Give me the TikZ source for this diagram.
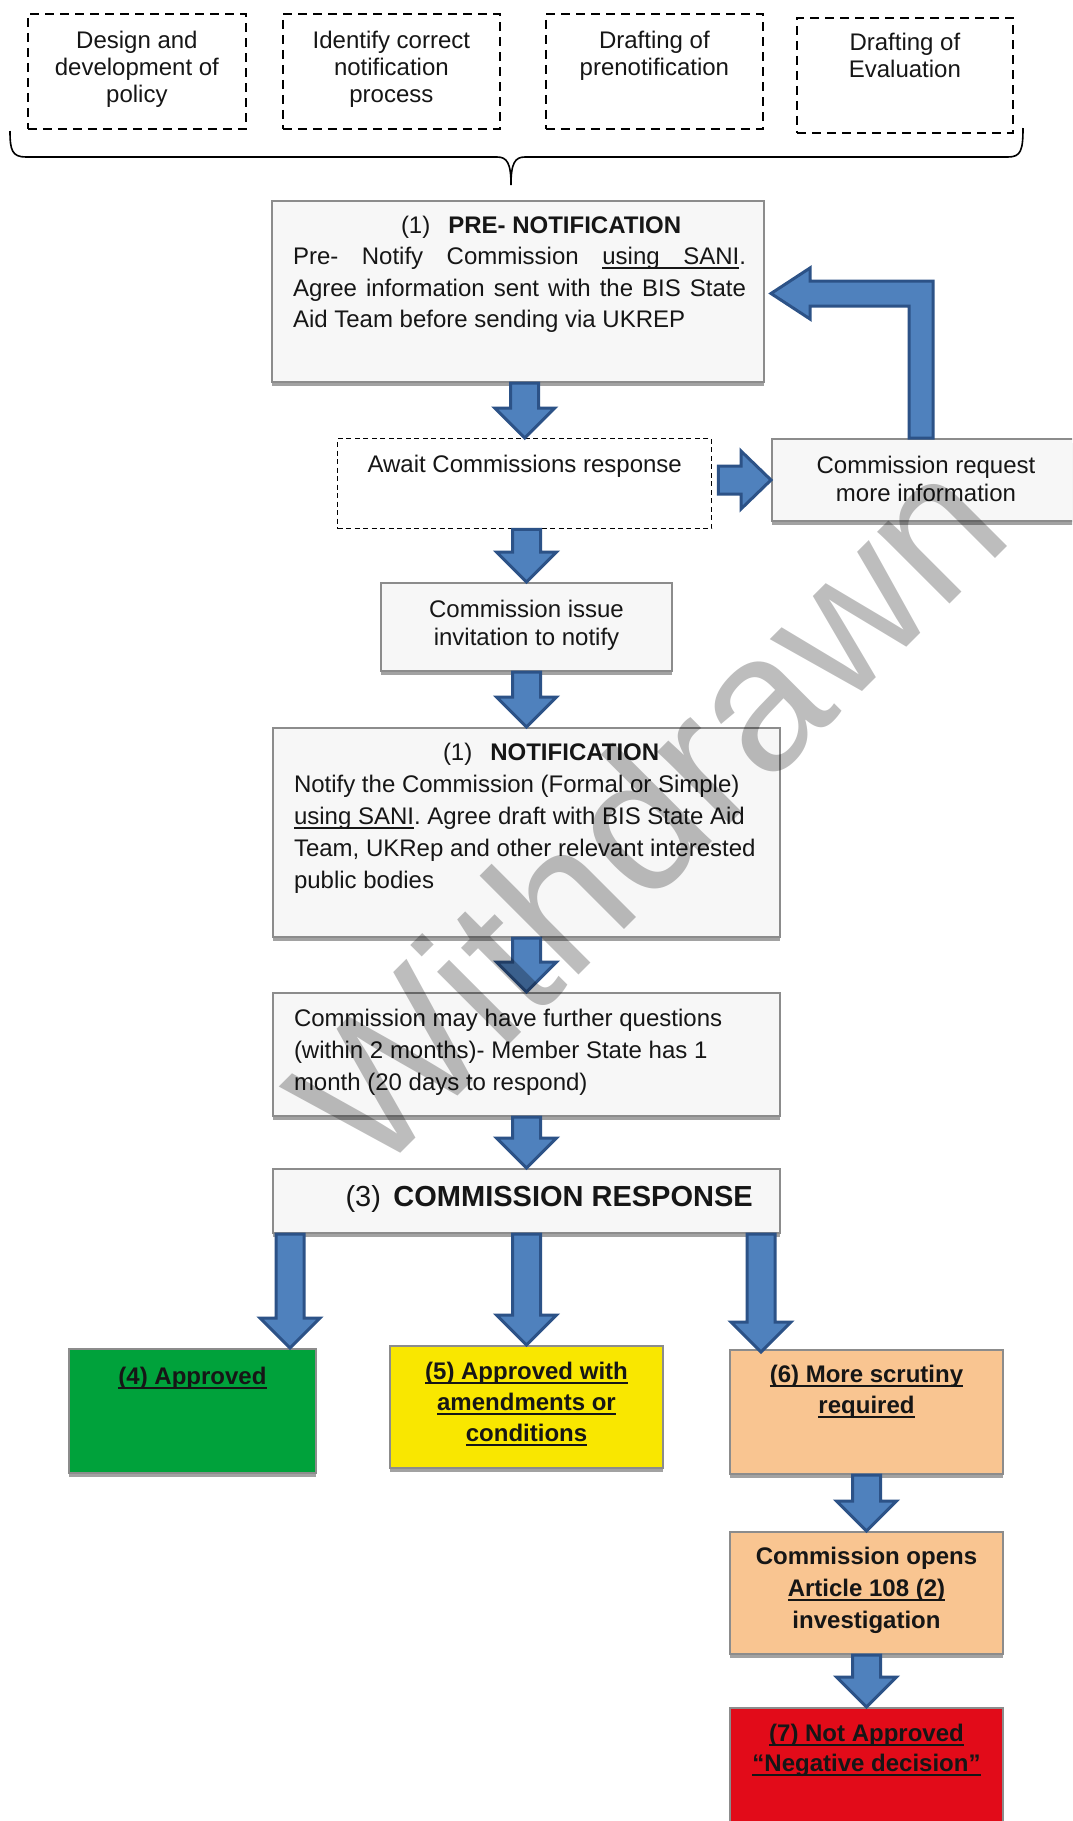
\documentclass[tikz,border=0pt]{standalone}
\usepackage{fontspec}
\setmainfont{Liberation Sans}
\usetikzlibrary{calc,shadows}
\frenchspacing

\definecolor{arrowfill}{HTML}{4F81BD}
\definecolor{arrowline}{HTML}{2C5287}
\definecolor{boxfill}{HTML}{F7F7F7}
\definecolor{boxline}{HTML}{8C8C8C}
\definecolor{boxshadow}{HTML}{A2A2A2}
\definecolor{okgreen}{HTML}{00A23B}
\definecolor{condyellow}{HTML}{F9E700}
\definecolor{peach}{HTML}{F9C591}
\definecolor{negred}{HTML}{E20B19}
\definecolor{ink}{HTML}{161616}

% underlined box of exactly the width of its content
\newcommand{\ulbox}[1]{\leavevmode\setbox0=\hbox{#1}\rlap{\rule[-4.5pt]{\wd0}{2pt}}\box0}
% fixed-size text block: width, height, first baseline offset, text
\newcommand{\content}[4]{\parbox[c][#2][t]{#1}{\vspace*{\dimexpr#3-0.7\baselineskip\relax}#4}}
% justified line of a given width
\newcommand{\fullline}[1]{\leavevmode\strut\hbox to 453pt{#1}}
% block arrow pointing down: shaft starts at the level of #2, tip at #3
\newcommand{\vblock}[2]{%
  \draw[blockarrow] ($(#2|-#1)+(-14,0)$) -- ($(#2)+(-14,-30)$) -- ($(#2)+(-30,-30)$) -- (#2)
    -- ($(#2)+(30,-30)$) -- ($(#2)+(14,-30)$) -- ($(#2|-#1)+(14,0)$) -- cycle;}

\begin{document}
\begin{tikzpicture}[x=1pt,y=-1pt,
  blockarrow/.style={fill=arrowfill,draw=arrowline,line width=3pt,line join=miter},
  txt/.style={font=\fontsize{24pt}{#1}\selectfont,text=ink},
  plainbox/.style={inner sep=0pt,anchor=north west,text=ink},
  topbox/.style={plainbox,draw=black,line width=1.8pt,dash pattern=on 9pt off 6pt},
  waitbox/.style={plainbox,draw=black,line width=1.4pt,dash pattern=on 5pt off 3.5pt},
  shadowbox/.style={plainbox,draw=boxline,line width=2pt,fill=#1,
    drop shadow={shadow xshift=0pt,shadow yshift=-4pt,fill=boxshadow,opacity=1}},
  graybox/.style={shadowbox=boxfill},
  brace/.style={draw=black,line width=1.6pt},
  watermark/.style={font=\fontsize{193pt}{193pt}\selectfont,text=black,text opacity=0.26,inner sep=0pt}]

\useasboundingbox (0,0) rectangle (1072,1821);
\fill[white] (0,0) rectangle (1072,1821);
\begin{scope}
\clip (0,0) rectangle (1072,1821);

% preparatory steps
\node[topbox,txt=26.7pt] (t1) at (27,13) {\content{218pt}{115pt}{35pt}{\centering\strut Design and\\development of\\policy}};
\node[topbox,txt=26.7pt] (t2) at (282,13) {\content{217pt}{115pt}{35pt}{\centering\strut Identify correct\\notification\\process}};
\node[topbox,txt=26.7pt] (t3) at (545,13) {\content{217pt}{115pt}{35pt}{\centering\strut Drafting of\\prenotification}};
\node[topbox,txt=26.7pt] (t4) at (796,17) {\content{216pt}{115pt}{33pt}{\centering\strut Drafting of\\Evaluation}};

% brace gathering the preparatory steps
\draw[brace] (10,131) .. controls (10,150) and (12,157) .. (26,157) -- (497,157)
  .. controls (507,157) and (511,163) .. (511,185)
  .. controls (511,163) and (515,157) .. (525,157) -- (1008,157)
  .. controls (1021,157) and (1023,150) .. (1023,128);

% pre-notification stage
\node[graybox,txt=31.5pt] (pre) at (271,200) {\content{492pt}{181pt}{32pt}{\raggedright\leftskip=21pt
  \strut\hspace*{108pt}(1)\hspace{18pt}\textbf{PRE- NOTIFICATION}\\
  \fullline{Pre-\hfill Notify\hfill Commission\hfill\ulbox{\hbox to 137pt{using\hfill SANI}}.}\\
  \fullline{Agree information sent with the BIS State}\\
  Aid Team before sending via UKREP}};

\node[waitbox,txt=27.5pt] (await) at (337,438) {\content{374pt}{90pt}{34pt}{\centering\strut Await Commissions response}};
\node[graybox,txt=27.5pt] (request) at (771,438) {\content{308pt}{82pt}{34.5pt}{\centering\strut Commission request\\more information}};
\node[graybox,txt=27.5pt] (issue) at (380,582) {\content{291pt}{88pt}{34.5pt}{\centering\strut Commission issue\\invitation to notify}};

% notification stage
\node[graybox,txt=32pt] (notif) at (272,727) {\content{507pt}{209pt}{32pt}{\raggedright\leftskip=21pt
  \strut\hspace*{149pt}(1)\hspace{18pt}\textbf{NOTIFICATION}\\
  Notify the Commission (Formal or Simple)\\
  \ulbox{using SANI}. Agree draft with BIS State Aid\\
  Team, UKRep and other relevant interested\\
  public bodies}};
\node[graybox,txt=32pt] (further) at (272,992) {\content{507pt}{123pt}{33pt}{\raggedright\leftskip=21pt
  \strut Commission may have further questions\\
  (within 2 months)- Member State has 1\\
  month (20 days to respond)}};

% commission response and outcomes
\node[graybox,font=\fontsize{29pt}{35pt}\selectfont] (response) at (272,1168) {\content{507pt}{64pt}{37pt}{\raggedright\leftskip=72.5pt
  \strut(3)\hspace{12.5pt}\textbf{COMMISSION RESPONSE}}};

\node[shadowbox=okgreen,txt=31pt] (approved) at (68,1348) {\content{247pt}{124pt}{35.5pt}{\centering\bfseries
  \strut\ulbox{(4) Approved}}};
\node[shadowbox=condyellow,txt=31pt] (amend) at (389,1345) {\content{273pt}{122pt}{33.5pt}{\centering\bfseries
  \strut\ulbox{(5) Approved with}\\\ulbox{amendments or}\\\ulbox{conditions}}};
\node[shadowbox=peach,txt=31pt] (scrutiny) at (729,1349) {\content{273pt}{124pt}{32.5pt}{\centering\bfseries
  \strut\ulbox{(6) More scrutiny}\\\ulbox{required}}};
\node[shadowbox=peach,txt=32pt] (opens) at (729,1531) {\content{273pt}{122pt}{32.5pt}{\centering\bfseries
  \strut Commission opens\\\ulbox{Article 108 (2)}\\investigation}};
\node[shadowbox=negred,txt=30pt] (negative) at (729,1707) {\content{273pt}{130pt}{33pt}{\centering\bfseries
  \strut\ulbox{(7) Not Approved}\\\ulbox{“Negative decision”}}};

% flow arrows
\vblock{pre.south}{await.north}
\vblock{await.south}{issue.north}
\vblock{issue.south}{notif.north}
\vblock{notif.south}{further.north}
\vblock{further.south}{response.north}
\coordinate (toapproved) at ($(approved.north east)+(-27,0)$);
\coordinate (toscrutiny) at ($(scrutiny.north west)+(32,3)$);
\vblock{response.south}{toapproved}
\vblock{response.south}{amend.north}
\vblock{response.south}{toscrutiny}
\vblock{scrutiny.south}{opens.north}
\vblock{opens.south}{negative.north}

% sideways arrow to the request for more information
\draw[blockarrow] ($(await.east|-request.west)+(6,-14)$) -- ($(request.west)+(-30,-14)$)
  -- ($(request.west)+(-30,-29)$) -- (request.west) -- ($(request.west)+(-30,29)$)
  -- ($(request.west)+(-30,14)$) -- ($(await.east|-request.west)+(6,14)$) -- cycle;

% bent arrow back to the pre-notification
\coordinate (bendfoot) at ($(request.north west)+(150,0)$);
\coordinate (bendtip) at ($(pre.east)+(6,2)$);
\draw[blockarrow] ($(bendfoot)+(-12,0)$) -- ($(bendfoot|-bendtip)+(-12,12.5)$)
  -- ($(bendtip)+(39,12.5)$) -- ($(bendtip)+(39,25.5)$) -- (bendtip)
  -- ($(bendtip)+(39,-25.5)$) -- ($(bendtip)+(39,-12.5)$)
  -- ($(bendfoot|-bendtip)+(12,-12.5)$) -- ($(bendfoot)+(12,0)$) -- cycle;

% status stamp across the page
\node[watermark,anchor=base west,rotate=45] (stamp) at (372,1182) {Withdrawn};
\end{scope}
\end{tikzpicture}
\end{document}
